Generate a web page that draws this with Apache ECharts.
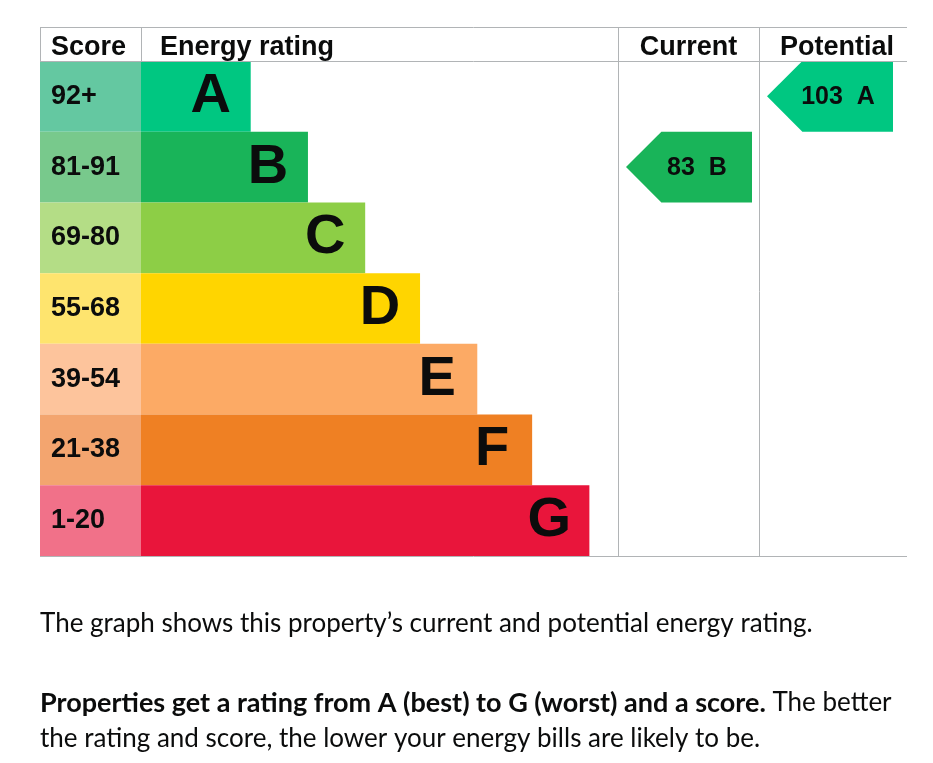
<!DOCTYPE html>
<html>
<head>
<meta charset="utf-8">
<title>Energy rating</title>
<script src="https://cdn.jsdelivr.net/npm/echarts@6/dist/echarts.min.js"></script>
<style>
  html, body { margin: 0; padding: 0; background: #fff; }
  #chart { width: 933px; height: 763px; }
</style>
</head>
<body>
<div id="chart"></div>
<script>
// bands, best to worst
const bands = ['A', 'B', 'C', 'D', 'E', 'F', 'G'];
const scoreRanges = ['92+', '81-91', '69-80', '55-68', '39-54', '21-38', '1-20'];
// bar length, % of the "Energy rating" column width
const bandWidths = [23, 35, 47, 58.5, 70.5, 82, 94];
const bandColors = ['#00c781', '#19b459', '#8dce46', '#ffd500', '#fcaa65', '#ef8023', '#e9153b'];
const scoreColors = ['#64c8a1', '#78c98c', '#b4dd86', '#fee46e', '#fdc49c', '#f3a56f', '#f17189'];

const headers = ['Score', 'Energy rating', 'Current', 'Potential'];

const currentScore = 83;
const currentBand = 'B';
const potentialScore = 103;
const potentialBand = 'A';

const BLACK = '#0b0c0c';
const LINE = '#b1b4b6';
const FONT = 'Liberation Sans, Arial, sans-serif';

// table layout
const cols = [40, 141, 618, 759, 907];
const headTop = 27, bodyTop = 61, bodyBottom = 556;
const bodyH = bodyBottom - bodyTop;

const chart = echarts.init(document.getElementById('chart'));

const grids = [0, 1, 2, 3].map(i => ({
  left: cols[i], top: bodyTop, width: cols[i + 1] - cols[i], height: bodyH
}));

const xAxes = grids.map((g, i) => ({
  gridIndex: i, type: 'value', min: 0, max: i === 1 ? 100 : 1, show: false
}));
const yAxes = grids.map((g, i) => ({
  gridIndex: i, type: 'category', data: bands, inverse: true, show: false
}));

// pointer arrow in the Current / Potential columns
const arrowItem = (params, api) => {
  const cs = params.coordSys;
  const c = api.coord([0, api.value(1)]);
  const h = api.size([0, 1])[1];
  const left = cs.x + 8, w = 126, tip = h / 2;
  const top = c[1] - h / 2, bot = c[1] + h / 2;
  const score = api.value(0);
  return {
    type: 'group',
    children: [{
      type: 'polygon',
      shape: { points: [[left, c[1]], [left + tip, top], [left + w, top], [left + w, bot], [left + tip, bot]] },
      style: { fill: bandColors[api.value(1)] }
    }, {
      type: 'text',
      style: {
        x: left + w / 2 + 8, y: c[1] + 1,
        text: score + '  ' + bands[api.value(1)],
        align: 'center', verticalAlign: 'middle',
        font: 'bold 25px ' + FONT, fill: BLACK
      }
    }]
  };
};

const graphic = [];
const line = (x1, y1, x2, y2) => graphic.push({
  type: 'line', silent: true, z: 10,
  shape: { x1, y1, x2, y2 }, style: { stroke: LINE, lineWidth: 1 }
});
line(cols[0], headTop + 0.5, cols[4], headTop + 0.5);
line(cols[0], bodyTop + 0.5, cols[4], bodyTop + 0.5);
line(cols[0], bodyBottom + 0.5, cols[4], bodyBottom + 0.5);
line(cols[0] + 0.5, headTop, cols[0] + 0.5, bodyTop);
line(cols[1] + 0.5, headTop, cols[1] + 0.5, bodyTop);
line(cols[2] + 0.5, headTop, cols[2] + 0.5, bodyBottom);
line(cols[3] + 0.5, headTop, cols[3] + 0.5, bodyBottom);

const headPos = [
  { x: cols[0] + 11, align: 'left' },
  { x: cols[1] + 19, align: 'left' },
  { x: (cols[2] + cols[3]) / 2, align: 'center' },
  { x: (cols[3] + cols[4]) / 2 + 4, align: 'center' }
];
headers.forEach((t, i) => graphic.push({
  type: 'text', silent: true,
  style: {
    x: headPos[i].x, y: (headTop + bodyTop) / 2 + 4, text: t,
    align: headPos[i].align, verticalAlign: 'middle',
    font: 'bold 27px ' + FONT, fill: BLACK
  }
}));

// caption below the chart
const BODY = 'Lato, "Noto Sans", sans-serif';
graphic.push({
  type: 'text', silent: true, left: 40, top: 611,
  style: { text: 'The graph shows this property\u2019s current and potential energy rating.', font: '26px ' + BODY, fill: BLACK }
});
graphic.push({
  type: 'text', silent: true, left: 40, top: 685,
  style: {
    text: '{b|Properties get a rating from A (best) to G (worst) and a score.} The better\nthe rating and score, the lower your energy bills are likely to be.',
    font: '26px ' + BODY, fill: BLACK, lineHeight: 36,
    rich: { b: { font: 'bold 27px ' + BODY, fill: BLACK, lineHeight: 36 } }
  }
});

chart.setOption({
  animation: false,
  grid: grids,
  xAxis: xAxes,
  yAxis: yAxes,
  graphic: graphic,
  series: [{
    type: 'bar', xAxisIndex: 0, yAxisIndex: 0,
    barWidth: '100%',
    data: scoreRanges.map((s, i) => ({ value: 1, itemStyle: { color: scoreColors[i] } })),
    label: {
      show: true, position: 'insideLeft', distance: 11,
      formatter: p => scoreRanges[p.dataIndex],
      fontFamily: FONT, fontWeight: 'bold', fontSize: 27, color: BLACK
    }
  }, {
    type: 'bar', xAxisIndex: 1, yAxisIndex: 1,
    barWidth: '100%',
    data: bandWidths.map((v, i) => ({ value: v, itemStyle: { color: bandColors[i] } })),
    label: {
      show: true, position: 'insideRight', distance: 40, align: 'center',
      formatter: p => bands[p.dataIndex],
      fontFamily: FONT, fontWeight: 'bold', fontSize: 56, color: BLACK
    }
  }, {
    type: 'custom', xAxisIndex: 2, yAxisIndex: 2,
    renderItem: arrowItem,
    data: [[currentScore, currentBand]]
  }, {
    type: 'custom', xAxisIndex: 3, yAxisIndex: 3,
    renderItem: arrowItem,
    data: [[potentialScore, potentialBand]]
  }]
});
</script>
</body>
</html>
